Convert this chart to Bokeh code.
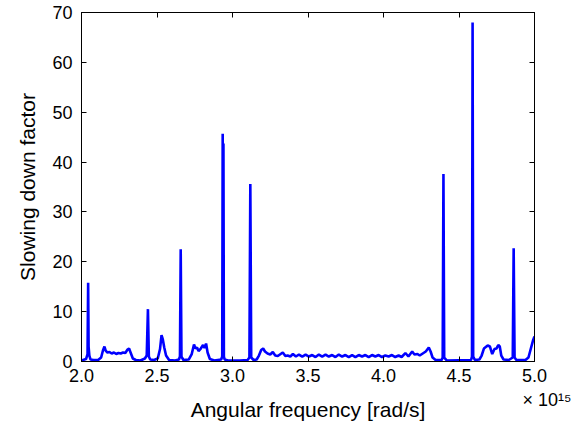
from bokeh.plotting import figure
from bokeh.models import LinearAxis, Range1d, FixedTicker, NumeralTickFormatter
from bokeh.embed import file_html
from bokeh.resources import INLINE

# Angular frequency in units of 1e15 rad/s
omega = [
    2.000, 2.010, 2.030, 2.040, 2.044, 2.047, 2.052, 2.060, 2.080, 2.110,
    2.130, 2.142, 2.152, 2.160, 2.172, 2.185, 2.200, 2.215, 2.230, 2.245,
    2.260, 2.275, 2.290, 2.305, 2.315, 2.325, 2.340, 2.360, 2.390, 2.420,
    2.432, 2.440, 2.446, 2.455, 2.480, 2.505, 2.520, 2.530, 2.538, 2.548,
    2.560, 2.580, 2.620, 2.645, 2.652, 2.657, 2.662, 2.675, 2.710, 2.730,
    2.745, 2.755, 2.765, 2.775, 2.790, 2.805, 2.815, 2.825, 2.835, 2.850,
    2.880, 2.925, 2.932, 2.935, 2.938, 2.940, 2.943, 2.948, 2.970, 3.050,
    3.100, 3.112, 3.118, 3.124, 3.140, 3.160, 3.175, 3.190, 3.203, 3.215,
    3.232, 3.250, 3.267, 3.283, 3.300, 3.333, 3.350, 3.365, 3.383, 3.400,
    3.420, 3.440, 3.462, 3.484, 3.506, 3.528, 3.550, 3.572, 3.594, 3.616,
    3.638, 3.660, 3.682, 3.704, 3.726, 3.748, 3.770, 3.792, 3.814, 3.836,
    3.858, 3.880, 3.902, 3.924, 3.946, 3.968, 3.990, 4.012, 4.034, 4.056,
    4.078, 4.100, 4.120, 4.145, 4.165, 4.190, 4.205, 4.225, 4.240, 4.260,
    4.280, 4.300, 4.312, 4.325, 4.345, 4.385, 4.392, 4.397, 4.402, 4.420,
    4.580, 4.586, 4.590, 4.594, 4.605, 4.635, 4.650, 4.665, 4.690, 4.705,
    4.720, 4.735, 4.748, 4.760, 4.770, 4.780, 4.795, 4.830, 4.856, 4.862,
    4.868, 4.880, 4.940, 4.960, 4.975, 4.990, 5.000,
]
slowing_factor = [
    0.2, 0.3, 0.5, 1.5, 15.8, 3.0, 1.2, 0.4, 0.3, 0.3,
    0.8, 2.2, 3.0, 2.2, 1.8, 1.9, 1.6, 1.8, 1.5, 1.7,
    1.6, 1.8, 1.7, 2.4, 2.6, 1.8, 0.6, 0.3, 0.2, 0.6,
    1.2, 10.5, 1.0, 0.4, 0.3, 0.6, 2.5, 5.3, 4.5, 2.8,
    1.2, 0.3, 0.2, 0.4, 1.0, 22.5, 1.0, 0.3, 0.4, 1.5,
    3.4, 2.6, 2.8, 2.1, 2.6, 3.3, 2.7, 3.6, 1.8, 0.5,
    0.2, 0.4, 1.0, 45.7, 30.3, 43.7, 1.0, 0.4, 0.2, 0.2,
    0.3, 0.8, 35.6, 0.8, 0.3, 0.4, 1.2, 2.3, 2.6, 2.0,
    1.6, 1.4, 1.9, 1.2, 1.1, 1.8, 1.1, 1.2, 1.0, 1.5,
    1.0, 1.4, 1.0, 1.4, 1.0, 1.3, 0.9, 1.4, 1.0, 1.4,
    1.0, 1.3, 0.9, 1.4, 1.0, 1.3, 0.9, 1.3, 0.9, 1.3,
    1.0, 1.3, 0.9, 1.3, 1.0, 1.3, 0.9, 1.2, 1.0, 1.3,
    0.9, 1.2, 0.9, 1.7, 1.0, 2.0, 1.4, 1.5, 1.2, 1.6,
    2.0, 2.8, 2.0, 0.8, 0.3, 0.3, 0.8, 37.6, 0.8, 0.2,
    0.3, 1.0, 68.0, 1.0, 0.3, 0.4, 1.2, 2.6, 3.2, 3.0,
    1.5, 2.5, 2.6, 3.3, 3.0, 1.2, 0.4, 0.3, 0.8, 22.7,
    0.8, 0.3, 0.3, 0.8, 2.5, 4.2, 5.0,
]

x_ticks = [2.0, 2.5, 3.0, 3.5, 4.0, 4.5, 5.0]
y_ticks = [0, 10, 20, 30, 40, 50, 60, 70]
x_label = "Angular frequency [rad/s]"
y_label = "Slowing down factor"
exponent_text = "\u00d7 10\u00b9\u2075"

FONT = "Liberation Sans"

p = figure(width=573, height=424, output_backend="svg", toolbar_location=None,
           x_range=Range1d(2.0, 5.0), y_range=Range1d(0, 70),
           min_border_left=81, min_border_right=39, min_border_top=12,
           min_border_bottom=63, background_fill_color="white",
           border_fill_color="white")
p.grid.visible = False
p.outline_line_color = "black"
p.outline_line_width = 1

p.line(omega, slowing_factor, line_color="#0000ff", line_width=2.6)

def style_axis(ax, ticks, labels=True):
    ax.ticker = FixedTicker(ticks=ticks)
    ax.major_tick_in = 5
    ax.major_tick_out = 0
    ax.minor_tick_in = 0
    ax.minor_tick_out = 0
    ax.minor_tick_line_color = None
    ax.axis_line_color = "black"
    ax.major_tick_line_color = "black"
    if labels:
        ax.major_label_text_font = FONT
        ax.major_label_text_font_size = "18px"
        ax.major_label_text_color = "black"
        ax.axis_label_text_font = FONT
        ax.axis_label_text_font_size = "21px"
        ax.axis_label_text_font_style = "normal"
        ax.axis_label_text_color = "black"
    else:
        ax.major_label_text_font_size = "0px"
        ax.major_label_standoff = 0

xa = p.xaxis[0]
style_axis(xa, x_ticks)
xa.axis_label = x_label
xa.formatter = NumeralTickFormatter(format="0.0")
xa.major_label_overrides = {5.0: "5.0\n" + "\u00a0" * 5 + exponent_text}
xa.major_label_standoff = 4
xa.axis_label_standoff = -15

ya = p.yaxis[0]
style_axis(ya, y_ticks)
ya.axis_label = y_label
ya.major_label_standoff = 9
ya.axis_label_standoff = 10

top = LinearAxis()
style_axis(top, x_ticks, labels=False)
p.add_layout(top, "above")
right = LinearAxis()
style_axis(right, y_ticks, labels=False)
p.add_layout(right, "right")

open("out.html", "w").write(file_html(p, INLINE))
